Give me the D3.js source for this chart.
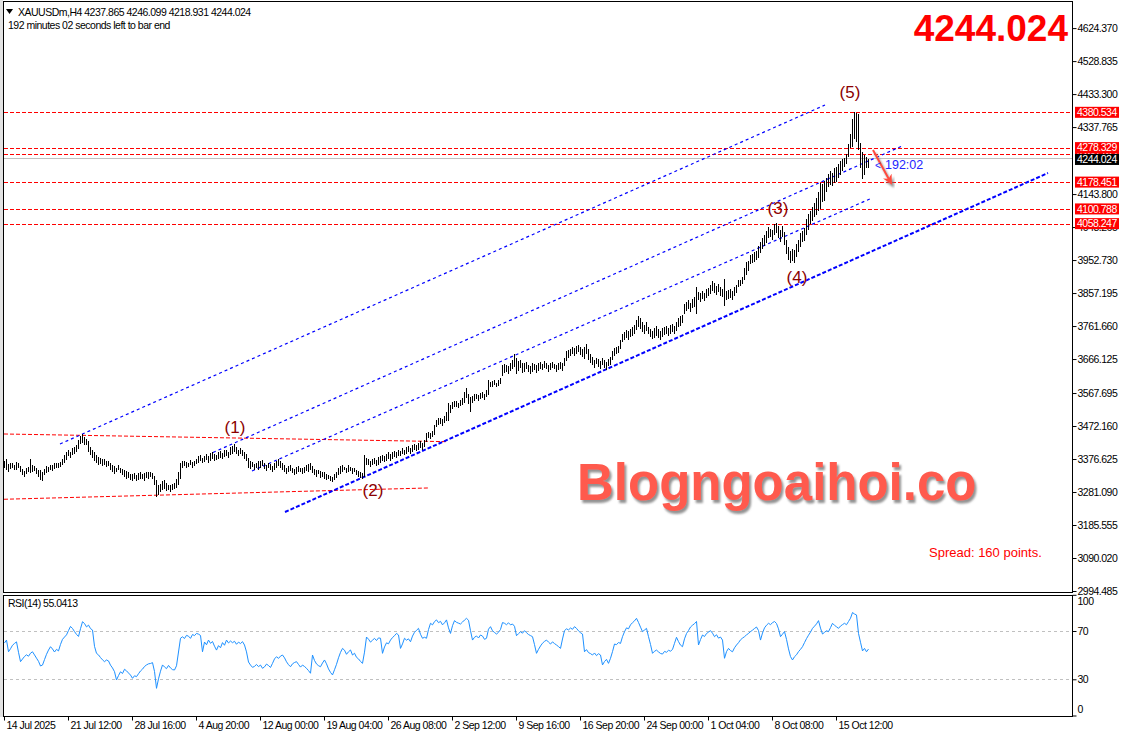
<!DOCTYPE html>
<html>
<head>
<meta charset="utf-8">
<script src="https://cdn.jsdelivr.net/npm/d3@7"></script>
<style>
  body { margin: 0; background: #fff; }
  svg text { font-family: "Liberation Sans", Arial, sans-serif; }
  .mt { font-size: 10.5px; letter-spacing: -0.5px; }
</style>
</head>
<body>
<svg id="chart" width="1125" height="737"></svg>
<script>
// H4 bars, one per 4 hours, from 14 Jul 2025
const highs = [
  3372,3378,3362,3366,3364,3360,3368,3366,3356,3348,
  3342,3350,3354,3376,3358,3356,3350,3346,3344,3338,
  3348,3356,3354,3360,3358,3364,3366,3364,3368,3376,
  3388,3398,3402,3396,3408,3410,3416,3432,3444,3450,
  3440,3436,3430,3412,3402,3396,3388,3382,3380,3376,
  3378,3370,3372,3366,3358,3356,3352,3358,3352,3348,
  3346,3342,3338,3334,3332,3336,3330,3336,3338,3334,
  3336,3340,3338,3340,3336,3328,3316,3300,3304,3312,
  3316,3306,3302,3300,3304,3308,3320,3340,3366,3372,
  3370,3368,3366,3374,3368,3372,3378,3384,3388,3380,
  3386,3392,3384,3394,3396,3390,3388,3398,3400,3394,
  3402,3404,3398,3410,3414,3420,3412,3404,3408,3402,
  3398,3392,3380,3370,3368,3362,3366,3372,3370,3374,
  3366,3360,3364,3362,3356,3366,3372,3376,3370,3364,
  3358,3352,3356,3360,3350,3348,3354,3356,3352,3350,
  3354,3358,3362,3366,3356,3348,3344,3346,3342,3340,
  3338,3334,3330,3328,3326,3334,3340,3350,3356,3358,
  3354,3352,3358,3354,3350,3352,3346,3342,3338,3336,
  3388,3380,3376,3372,3376,3380,3374,3382,3386,3388,
  3384,3392,3396,3390,3398,3400,3396,3404,3400,3408,
  3404,3410,3414,3408,3418,3420,3416,3424,3428,3422,
  3432,3452,3456,3452,3458,3476,3490,3494,3496,3492,
  3500,3512,3540,3534,3542,3546,3544,3540,3548,3552,
  3570,3581,3566,3556,3560,3564,3566,3562,3568,3570,
  3566,3576,3604,3600,3602,3606,3598,3604,3610,3648,
  3652,3648,3646,3656,3662,3680,3670,3660,3664,3654,
  3656,3658,3650,3646,3654,3652,3648,3656,3658,3652,
  3660,3654,3650,3656,3658,3652,3650,3654,3658,3656,
  3668,3690,3692,3696,3702,3698,3704,3706,3700,3694,
  3700,3711,3694,3680,3672,3664,3670,3666,3660,3668,
  3664,3658,3666,3672,3690,3698,3700,3704,3722,3740,
  3744,3750,3746,3752,3758,3766,3778,3792,3786,3772,
  3766,3772,3760,3754,3748,3756,3762,3752,3746,3756,
  3760,3762,3756,3764,3768,3762,3772,3786,3790,3794,
  3826,3832,3836,3828,3840,3846,3874,3860,3856,3862,
  3858,3870,3872,3880,3893,3886,3878,3884,3874,3868,
  3899,3864,3866,3870,3862,3874,3880,3894,3896,3904,
  3930,3946,3950,3968,3970,3976,3980,3992,4004,4018,
  4024,4036,4048,4044,4040,4058,4060,4052,4040,4050,
  4034,4012,3990,3978,3986,3982,3998,4012,4030,4036,
  4047,4073,4086,4096,4105,4118,4131,4150,4177,4172,
  4183,4190,4203,4210,4206,4218,4222,4232,4241,4244,
  4247,4261,4290,4319,4360,4381,4378,4375,4293,4265,
  4258,4252,4246.099
];
const lows = [
  3352,3345,3340,3348,3350,3344,3346,3352,3340,3330,
  3326,3332,3338,3335,3340,3342,3332,3326,3316,3314,
  3330,3336,3340,3344,3342,3348,3352,3350,3354,3358,
  3366,3374,3384,3380,3388,3392,3396,3406,3420,3424,
  3418,3416,3396,3388,3380,3372,3366,3360,3362,3356,
  3360,3354,3356,3346,3340,3334,3338,3344,3336,3330,
  3326,3320,3322,3316,3314,3320,3312,3316,3320,3318,
  3314,3322,3318,3324,3320,3300,3268,3272,3282,3286,
  3290,3284,3288,3280,3286,3290,3292,3300,3318,3350,
  3356,3352,3354,3358,3350,3356,3362,3366,3370,3364,
  3368,3374,3366,3372,3378,3370,3374,3378,3380,3376,
  3382,3386,3380,3388,3392,3396,3390,3386,3392,3384,
  3378,3370,3352,3348,3354,3344,3350,3346,3352,3356,
  3348,3342,3350,3346,3340,3344,3352,3356,3350,3346,
  3340,3334,3338,3342,3336,3330,3334,3340,3338,3332,
  3336,3342,3338,3344,3336,3330,3326,3332,3322,3326,
  3320,3316,3318,3312,3310,3316,3322,3330,3334,3340,
  3344,3336,3338,3342,3334,3338,3330,3326,3322,3318,
  3324,3358,3360,3354,3358,3362,3356,3360,3366,3370,
  3368,3372,3376,3370,3378,3382,3380,3386,3384,3390,
  3388,3392,3396,3390,3398,3402,3400,3404,3408,3404,
  3412,3426,3438,3434,3440,3446,3470,3474,3478,3472,
  3480,3486,3488,3510,3522,3526,3528,3524,3530,3534,
  3540,3552,3536,3512,3540,3546,3550,3544,3550,3554,
  3548,3556,3562,3584,3586,3590,3584,3588,3594,3618,
  3626,3630,3622,3632,3638,3642,3624,3632,3640,3626,
  3630,3636,3628,3622,3630,3634,3626,3632,3638,3634,
  3640,3636,3630,3634,3640,3636,3628,3634,3638,3632,
  3646,3660,3668,3674,3680,3676,3682,3686,3678,3672,
  3666,3680,3664,3656,3648,3640,3652,3644,3636,3648,
  3640,3634,3646,3650,3662,3676,3680,3684,3694,3716,
  3720,3728,3722,3730,3734,3740,3750,3758,3752,3744,
  3738,3746,3740,3730,3724,3728,3734,3726,3720,3730,
  3736,3740,3732,3738,3744,3740,3748,3758,3762,3770,
  3796,3804,3810,3802,3814,3818,3797,3836,3830,3840,
  3834,3842,3848,3854,3862,3858,3852,3860,3850,3846,
  3821,3836,3840,3844,3838,3848,3856,3874,3878,3884,
  3894,3910,3922,3940,3944,3948,3952,3960,3972,3986,
  3994,4002,4018,4020,4012,4024,4030,4016,4006,4020,
  3996,3970,3952,3945,3950,3944,3962,3976,3990,4004,
  4009,4024,4040,4058,4067,4076,4082,4094,4102,4120,
  4125,4150,4163,4170,4168,4177,4180,4190,4198,4212,
  4221,4232,4250,4276,4279,4304,4296,4270,4218,4186,
  4200,4218,4218.931
];
const rsi = [
  60.1,62.5,52.8,55.3,58.2,59.7,61.0,52.4,44.6,46.8,
  48.9,50.3,49.1,51.6,52.8,50.2,47.5,44.9,41.0,41.8,
  46.3,50.7,54.2,57.0,55.1,52.6,54.8,53.5,58.9,63.1,
  65.0,66.8,70.4,73.8,72.1,69.5,67.2,65.5,71.9,77.7,
  76.2,73.4,74.9,72.0,70.8,57.3,51.5,50.2,48.0,46.1,
  44.6,46.0,45.2,41.7,39.4,36.3,29.4,33.1,36.2,34.8,
  38.3,37.0,35.2,33.5,30.8,32.9,32.2,34.6,36.9,38.4,
  40.6,41.9,42.8,43.1,43.8,36.5,22.5,30.4,36.7,41.9,
  40.2,38.8,41.5,39.4,38.0,37.7,41.2,52.6,64.0,65.2,
  63.8,66.4,65.7,63.9,67.1,66.2,68.0,67.4,66.3,52.8,
  60.9,58.6,62.5,59.8,61.3,57.4,54.2,57.9,56.1,60.4,
  58.2,62.5,60.1,61.7,60.3,61.5,59.0,60.8,59.6,61.2,
  58.4,52.7,44.3,41.8,39.9,40.7,42.3,40.5,41.8,39.1,
  40.3,42.6,41.4,39.8,43.2,46.9,48.7,47.3,49.2,50.1,
  47.8,44.5,42.1,40.4,42.8,43.9,44.6,42.3,40.1,41.8,
  40.6,39.1,37.2,35.0,50.1,45.6,42.7,41.3,40.4,43.5,
  46.0,42.8,38.6,35.7,33.6,37.9,42.4,47.8,52.3,55.6,
  54.1,50.7,52.8,54.3,50.1,51.6,48.2,46.9,44.8,43.2,
  52.5,65.0,63.2,60.8,62.4,63.9,62.1,64.3,64.0,51.5,
  56.8,60.2,59.4,62.5,64.6,66.1,68.0,66.7,55.6,59.3,
  64.0,62.4,63.5,61.1,65.8,68.9,70.6,72.2,67.3,64.0,
  64.8,64.0,71.2,76.4,75.1,77.8,79.2,76.9,78.0,75.1,
  76.8,79.2,72.6,68.0,74.4,78.6,77.2,76.5,75.8,77.4,
  79.1,80.5,78.9,70.3,62.5,64.8,65.9,64.2,66.7,65.8,
  63.1,64.0,71.5,73.6,70.2,68.8,67.5,68.9,71.3,77.0,
  76.4,75.2,76.8,75.1,75.8,73.9,66.1,67.8,69.4,68.2,
  70.3,68.6,67.1,66.2,65.3,58.7,51.5,54.8,57.6,59.9,
  61.4,62.5,60.8,59.2,61.0,59.6,58.4,57.1,55.6,63.4,
  70.3,71.8,70.9,72.5,71.4,73.6,72.2,70.1,68.6,67.5,
  52.8,54.6,52.1,51.3,50.1,51.8,49.6,51.2,50.1,41.9,
  44.7,46.5,43.2,47.4,52.9,59.2,58.7,60.5,59.7,65.3,
  69.4,72.6,71.8,75.1,76.9,78.4,80.5,77.1,73.2,69.5,
  70.8,72.2,65.3,58.9,51.5,53.2,54.2,52.7,51.4,50.9,
  53.1,52.4,54.0,53.3,54.7,59.8,64.8,61.2,58.3,57.0,
  63.5,67.9,70.4,73.3,74.8,76.1,77.9,58.4,62.9,66.7,
  65.4,67.9,69.1,70.3,68.2,65.3,66.9,64.1,65.0,62.5,
  47.4,52.9,55.6,53.8,52.8,56.1,58.4,60.3,62.7,64.1,
  65.3,66.8,68.0,69.5,70.7,72.1,73.3,70.4,62.5,68.3,
  72.6,74.8,76.4,75.3,76.9,77.9,76.2,71.8,65.3,67.4,
  69.5,63.1,55.2,48.8,46.0,48.7,50.3,52.9,54.8,57.0,
  60.4,63.7,66.5,69.1,72.2,74.0,75.9,78.6,72.4,67.5,
  68.9,70.2,69.5,72.8,76.4,74.7,73.5,72.2,74.1,75.3,
  76.4,75.2,77.9,80.6,85.3,84.1,83.3,68.0,60.7,53.5,
  55.6,52.8,55.0413
];

// price scale labels (the one at 4242.230 sits under the bid tag and is not shown)
const priceTicks = [4624.370,4528.835,4433.300,4337.765,4143.800,4048.265,
  3952.730,3857.195,3761.660,3666.125,3567.695,3472.160,3376.625,3281.090,3185.555,3090.020,2994.485];
const timeLabels = ["14 Jul 2025","21 Jul 12:00","28 Jul 16:00","4 Aug 20:00","12 Aug 00:00",
  "19 Aug 04:00","26 Aug 08:00","2 Sep 12:00","9 Sep 16:00","16 Sep 20:00","24 Sep 00:00",
  "1 Oct 04:00","8 Oct 08:00","15 Oct 12:00"];
const timeLabelBars = [0,32,64,96,128,160,192,224,256,288,320,352,384,416];

const levelPrices = [4260.163, 4380.534, 4278.329, 4178.451, 4100.788, 4058.247];
const bidPrice = 4244.024;
const rsiLevels = [70, 30];
const rsiTicks = [100, 70, 30, 0];

// chart objects: [bar, price] anchors
const channelLines = [
  [[28, 3420.2], [410.5, 4401.6]],
  [[104.5, 3395.5], [449, 4282.9]],
  [[124, 3342.0], [434, 4132.4]]
];
const baseLine = [[140.5, 3223.3], [522, 4204.8]];
const rangeLines = [
  [[0, 3449.1], [221.5, 3426.9]],
  [[0, 3260.1], [212, 3292.8]]
];
const waveNames = ["(1)", "(2)", "(3)", "(4)", "(5)"];
const waveBars = [115.5, 184.5, 387, 396.5, 423];
const wavePrices = [3466.5, 3284.1, 4100.6, 3900.8, 4439.3];
const arrowPts = [[434.5, 4271.4], [443.5, 4175.8]];

const W = 1125, H = 737;
const L = 3.5, R = 1072.5, mainTop = 1.5, mainBot = 592.5, rsiTop = 595.5, rsiBot = 716.5;

const svg = d3.select("#chart");
const x = d3.scaleLinear().domain([0, 534]).range([4, 1072]);
const y = d3.scaleLinear().domain([2994.485, 4624.37]).range([591.0, 28.1]);
const yr = d3.scaleLinear().domain([0, 100]).range([715.5, 594.8]);

const defs = svg.append("defs");
defs.append("clipPath").attr("id", "clipMain").append("rect")
  .attr("x", L).attr("y", mainTop).attr("width", R - L).attr("height", mainBot - mainTop);
defs.append("clipPath").attr("id", "clipRsi").append("rect")
  .attr("x", L).attr("y", rsiTop).attr("width", R - L).attr("height", rsiBot - rsiTop);
const shadow = defs.append("filter").attr("id", "shadow").attr("x", "-10%").attr("y", "-10%")
  .attr("width", "130%").attr("height", "140%");
shadow.append("feDropShadow").attr("dx", 2).attr("dy", 3).attr("stdDeviation", 1)
  .attr("flood-color", "#777").attr("flood-opacity", 0.8);
defs.append("marker").attr("id", "head").attr("viewBox", "0 0 10 10")
  .attr("refX", 8).attr("refY", 5).attr("markerWidth", 5).attr("markerHeight", 5)
  .attr("orient", "auto")
  .append("path").attr("d", "M0,0 L10,5 L0,10 L3,5 Z").attr("fill", "#ff4b3e");

svg.append("rect").attr("width", W).attr("height", H).attr("fill", "#fff");
svg.append("rect").attr("x", 0).attr("y", 0).attr("width", 3).attr("height", 717).attr("fill", "#e2e2e2");

// ---------- main panel ----------
const main = svg.append("g").attr("clip-path", "url(#clipMain)");

main.selectAll(".lvl")
  .data(levelPrices)
  .join("line")
  .attr("x1", L).attr("x2", R)
  .attr("y1", d => Math.round(y(d)) + 0.5).attr("y2", d => Math.round(y(d)) + 0.5)
  .attr("stroke", "#ff0000").attr("stroke-dasharray", "4,2").attr("shape-rendering", "crispEdges");

main.append("line")
  .attr("x1", L).attr("x2", R)
  .attr("y1", Math.round(y(bidPrice)) - 0.5).attr("y2", Math.round(y(bidPrice)) - 0.5)
  .attr("stroke", "#c0c0c0").attr("shape-rendering", "crispEdges");

main.selectAll(".range")
  .data(rangeLines)
  .join("line")
  .attr("x1", d => x(d[0][0])).attr("y1", d => y(d[0][1]))
  .attr("x2", d => x(d[1][0])).attr("y2", d => y(d[1][1]))
  .attr("stroke", "#ff0000").attr("stroke-dasharray", "4,2");

main.selectAll(".chan")
  .data(channelLines)
  .join("line")
  .attr("x1", d => x(d[0][0])).attr("y1", d => y(d[0][1]))
  .attr("x2", d => x(d[1][0])).attr("y2", d => y(d[1][1]))
  .attr("stroke", "#0000ff").attr("stroke-width", 1.2).attr("stroke-dasharray", "3,3");

main.append("line")
  .attr("x1", x(baseLine[0][0])).attr("y1", y(baseLine[0][1]))
  .attr("x2", x(baseLine[1][0])).attr("y2", y(baseLine[1][1]))
  .attr("stroke", "#0000ff").attr("stroke-width", 2).attr("stroke-dasharray", "4,2");

main.selectAll(".bar")
  .data(highs)
  .join("line")
  .attr("class", "bar")
  .attr("x1", (d, i) => Math.round(x(i)) + 0.5).attr("x2", (d, i) => Math.round(x(i)) + 0.5)
  .attr("y1", d => y(d)).attr("y2", (d, i) => y(lows[i]))
  .attr("stroke", "#000").attr("stroke-width", 1).attr("shape-rendering", "crispEdges");

main.selectAll(".wave")
  .data(waveNames)
  .join("text")
  .attr("x", (d, i) => x(waveBars[i])).attr("y", (d, i) => y(wavePrices[i]))
  .attr("text-anchor", "middle").attr("dominant-baseline", "central")
  .attr("font-size", 17).attr("fill", "#8b0000")
  .text(d => d);

main.append("line")
  .attr("x1", x(arrowPts[0][0])).attr("y1", y(arrowPts[0][1]))
  .attr("x2", x(arrowPts[1][0])).attr("y2", y(arrowPts[1][1]))
  .attr("stroke", "#ff4b3e").attr("stroke-width", 2)
  .attr("marker-end", "url(#head)").attr("filter", "url(#shadow)");

main.append("text").attr("x", 875).attr("y", y(bidPrice) + 10)
  .attr("font-size", 10).attr("fill", "#2424ff").text("<");
main.append("text").attr("x", 885).attr("y", y(bidPrice) + 10)
  .attr("font-size", 12.5).attr("fill", "#2424ff").text("192:02");

main.append("text").attr("x", 577).attr("y", 500)
  .attr("font-size", 51).attr("font-weight", "bold").attr("fill", "#ff5a4e")
  .attr("filter", "url(#shadow)").text("Blogngoaihoi.co");

main.append("text").attr("x", 929).attr("y", 557)
  .attr("font-size", 13).attr("fill", "#ff0000").text("Spread: 160 points.");

main.append("text").attr("x", 1068).attr("y", 41).attr("text-anchor", "end")
  .attr("font-size", 37).attr("font-weight", "bold").attr("fill", "#ff0000").text("4244.024");

main.append("path").attr("d", "M6,9 L13,9 L9.5,14 Z").attr("fill", "#000");
main.append("text").attr("class", "mt").attr("x", 18).attr("y", 16)
  .text("XAUUSDm,H4  4237.865 4246.099 4218.931 4244.024");
main.append("text").attr("class", "mt").attr("x", 8).attr("y", 29)
  .text("192 minutes 02 seconds left to bar end");

// ---------- RSI panel ----------
const sub = svg.append("g").attr("clip-path", "url(#clipRsi)");
sub.selectAll(".rl")
  .data(rsiLevels)
  .join("line")
  .attr("x1", L).attr("x2", R)
  .attr("y1", d => Math.round(yr(d)) + 0.5).attr("y2", d => Math.round(yr(d)) + 0.5)
  .attr("stroke", "#c0c0c0").attr("stroke-dasharray", "3,3").attr("shape-rendering", "crispEdges");

sub.append("path")
  .datum(rsi)
  .attr("fill", "none").attr("stroke", "#1e90ff").attr("stroke-width", 1)
  .attr("d", d3.line().x((d, i) => Math.round(x(i)) + 0.5).y(d => yr(d)));

sub.append("text").attr("class", "mt").attr("x", 8).attr("y", 607).text("RSI(14) 55.0413");

// ---------- frames and axes ----------
svg.append("rect").attr("x", L).attr("y", mainTop).attr("width", R - L).attr("height", mainBot - mainTop)
  .attr("fill", "none").attr("stroke", "#000");
svg.append("rect").attr("x", L).attr("y", rsiTop).attr("width", R - L).attr("height", rsiBot - rsiTop)
  .attr("fill", "none").attr("stroke", "#000");

const pAxis = svg.append("g").attr("transform", `translate(${R},0)`)
  .call(d3.axisRight(y).tickValues(priceTicks).tickSize(4).tickPadding(1).tickFormat(d3.format(".3f")));
pAxis.select(".domain").remove();
pAxis.selectAll("text").attr("class", "mt").attr("font-family", null).attr("font-size", null);
pAxis.selectAll("line").attr("stroke", "#000");

// right-side price tags
const tags = svg.append("g");
tags.selectAll("rect")
  .data(levelPrices)
  .join("rect")
  .attr("x", 1075).attr("y", d => y(d) - 5.5).attr("width", 44).attr("height", 11)
  .attr("fill", "#ff0000");
tags.selectAll("text")
  .data(levelPrices)
  .join("text")
  .attr("class", "mt").attr("x", 1077).attr("y", d => y(d) + 3.6).attr("fill", "#fff")
  .text(d => d.toFixed(3));
// 4260 tag lies under the 4278 tag
tags.selectAll("rect").filter(d => d === 4278.329).raise();
tags.selectAll("text").filter(d => d === 4278.329).raise();
svg.append("rect").attr("x", 1075).attr("y", y(bidPrice) - 5.5).attr("width", 44).attr("height", 11)
  .attr("fill", "#000");
svg.append("text").attr("class", "mt").attr("x", 1077).attr("y", y(bidPrice) + 3.6).attr("fill", "#fff")
  .text(bidPrice.toFixed(3));

const rAxis = svg.append("g").attr("transform", `translate(${R},0)`)
  .call(d3.axisRight(yr).tickValues(rsiTicks).tickSize(4).tickPadding(1));
rAxis.select(".domain").remove();
rAxis.selectAll("line").attr("stroke", "#000");
rAxis.selectAll("text").attr("class", "mt").attr("font-family", null).attr("font-size", null)
  .attr("y", d => d === 100 ? 6 : d === 0 ? -6 : 0);

const tAxis = svg.append("g").attr("transform", `translate(0,${rsiBot})`)
  .call(d3.axisBottom(x).tickValues(timeLabelBars).tickSize(4).tickFormat((d, i) => timeLabels[i]));
tAxis.select(".domain").remove();
tAxis.selectAll("line").attr("stroke", "#000");
tAxis.selectAll("text").attr("class", "mt").attr("font-family", null).attr("font-size", null)
  .attr("text-anchor", "start").attr("x", 2).attr("y", 12).attr("dy", null);
</script>
</body>
</html>
